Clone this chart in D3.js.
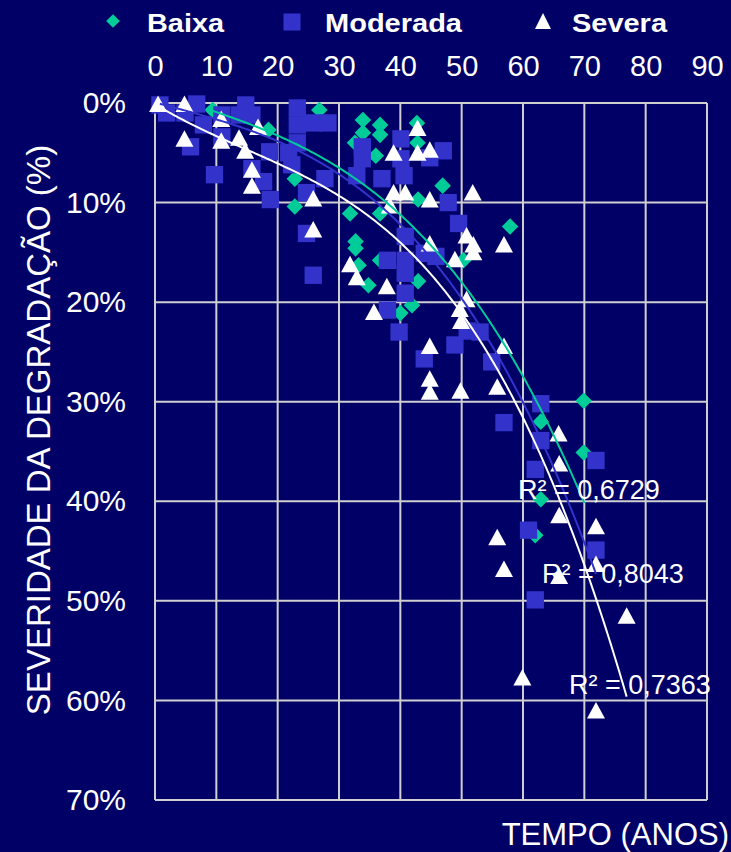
<!DOCTYPE html>
<html>
<head>
<meta charset="utf-8">
<script src="https://cdn.jsdelivr.net/npm/d3@7"></script>
<style>
  body { margin: 0; background: #000066; }
  text { font-family: Arial, "Liberation Sans", sans-serif; fill: #fff; }
</style>
</head>
<body>
<svg width="731" height="852"></svg>
<script>
// axis ticks
var xTicks = [0, 10, 20, 30, 40, 50, 60, 70, 80, 90];
var yTicks = [0, 10, 20, 30, 40, 50, 60, 70];

// series: [tempo (anos), severidade (%)]
var baixa = [
    [9.4, 0.7], [18.5, 2.7], [22.8, 7.6], [22.8, 10.4], [26.8, 0.7],
    [33.9, 1.7], [33.9, 3.0], [36.7, 2.2], [36.7, 3.2], [32.6, 4.0],
    [36.0, 5.3], [42.7, 2.0], [42.8, 4.0], [46.9, 8.3], [42.9, 9.7],
    [31.8, 11.1], [36.7, 11.1], [32.7, 13.9], [32.7, 14.6], [33.2, 16.3],
    [36.7, 15.8], [34.8, 18.3], [42.9, 17.9], [40.0, 21.1], [41.9, 20.3],
    [50.3, 15.8], [57.9, 12.4], [69.9, 29.9], [62.9, 32.0], [69.9, 35.1],
    [62.9, 39.8], [62.0, 43.4]
];
var moderada = [
    [0.8, 0.2], [1.9, 1.0], [4.9, 1.0], [6.8, 0.1], [7.9, 2.2],
    [5.8, 4.4], [9.7, 7.2], [10.9, 1.2], [10.9, 3.4], [14.8, 0.2],
    [13.8, 1.2], [15.8, 1.2], [18.7, 4.9], [15.8, 6.6], [17.7, 7.9],
    [18.8, 9.7], [23.2, 0.5], [23.2, 2.2], [23.2, 4.0], [21.8, 5.0],
    [22.3, 6.2], [25.8, 2.0], [28.2, 2.0], [27.7, 7.6], [24.7, 9.0],
    [24.7, 13.1], [25.8, 17.3], [33.8, 4.4], [33.8, 5.6], [32.9, 7.3],
    [37.0, 7.6], [40.1, 3.6], [40.1, 5.6], [40.6, 7.3], [47.0, 4.8],
    [44.8, 5.5], [47.8, 10.0], [49.5, 12.1], [40.8, 13.4], [37.9, 15.8],
    [40.8, 15.8], [40.8, 17.1], [43.9, 15.1], [45.8, 15.4], [40.8, 19.1],
    [37.9, 20.8], [39.8, 23.0], [48.9, 24.3], [50.9, 22.9], [53.0, 23.0],
    [43.9, 25.7], [54.9, 26.0], [62.9, 30.2], [56.9, 32.1], [62.9, 33.9],
    [71.9, 35.9], [62.0, 36.8], [60.9, 42.9], [71.9, 44.9], [62.0, 49.9]
];
var severa = [
    [0.5, 0.2], [4.8, 0.2], [4.8, 3.7], [10.8, 1.7], [10.8, 3.9],
    [13.7, 3.6], [14.7, 4.9], [16.8, 2.5], [15.8, 6.8], [15.8, 8.4],
    [25.8, 9.7], [25.8, 12.8], [31.8, 16.3], [32.9, 17.6], [35.7, 21.1],
    [37.8, 18.5], [38.3, 10.4], [38.9, 5.1], [38.9, 9.1], [40.8, 9.1],
    [42.8, 2.6], [42.8, 5.1], [44.8, 4.8], [44.8, 9.8], [44.8, 14.2],
    [44.8, 24.5], [44.8, 27.8], [44.8, 29.1], [48.9, 15.8], [49.7, 20.8],
    [49.9, 22.0], [49.8, 29.0], [50.8, 13.4], [50.8, 19.8], [51.8, 9.1],
    [51.9, 14.3], [51.9, 15.1], [55.8, 28.6], [56.9, 14.3], [56.9, 24.5],
    [55.8, 43.7], [56.9, 46.9], [59.9, 57.8], [65.8, 33.3], [65.9, 36.3],
    [65.9, 41.5], [65.9, 47.6], [71.9, 42.6], [71.9, 46.4], [76.9, 51.6],
    [71.9, 61.1]
];

// trend lines: [tempo, severidade]
var trendBaixa = [
    [8.4, 0.5], [23.6, 4.5], [30, 6.7], [40, 10.7], [49.7, 17.9],
    [52.4, 19.8], [56.3, 23.8], [60, 27.5], [65, 33.7], [70, 39.9]
];
var trendModerada = [
    [0.8, 0.1], [30, 7.0], [40, 12.1], [49.2, 19.8], [51.4, 20.8],
    [56.3, 25.8], [59.5, 28.5], [62.2, 33.0], [66.6, 39.2], [71.9, 47.3]
];
var trendSevera = [
    [0.5, 0.3], [22.8, 6.9], [30.2, 9.4], [47, 18.8], [51.4, 22.1],
    [58.4, 29.8], [61.7, 33.8], [69.3, 45.2], [76.9, 59.6]
];
var r2Labels = ['R² = 0,6729', 'R² = 0,8043', 'R² = 0,7363'];
var legendNames = ['Baixa', 'Moderada', 'Severa'];

var svg = d3.select('svg');
var width = 731, height = 852;
svg.append('rect').attr('width', width).attr('height', height).attr('fill', '#000066');

var x = d3.scaleLinear().domain([0, 90]).range([155, 707]);
var y = d3.scaleLinear().domain([0, 70]).range([103, 800]);

// grid
var grid = svg.append('g').attr('stroke', '#cfcfcf').attr('stroke-width', 2);
grid.selectAll('line.v').data(xTicks).enter().append('line')
    .attr('x1', d => x(d)).attr('x2', d => x(d))
    .attr('y1', y(0)).attr('y2', y(70));
grid.selectAll('line.h').data(yTicks).enter().append('line')
    .attr('y1', d => y(d)).attr('y2', d => y(d))
    .attr('x1', x(0)).attr('x2', x(90));

// axes (labels only, no tick marks)
var xAxis = d3.axisTop(x).tickValues(xTicks).tickSize(0).tickPadding(0);
svg.append('g').attr('transform', 'translate(0,76)').call(xAxis)
    .call(g => g.select('.domain').remove())
    .selectAll('text').attr('font-size', 29).attr('fill', '#fff')
    .attr('font-family', 'Arial, "Liberation Sans", sans-serif');

var yAxis = d3.axisLeft(y).tickValues(yTicks).tickSize(0).tickPadding(0)
    .tickFormat(d => d + '%');
svg.append('g').attr('transform', 'translate(126,0)').call(yAxis)
    .call(g => g.select('.domain').remove())
    .selectAll('text').attr('font-size', 30).attr('fill', '#fff')
    .attr('font-family', 'Arial, "Liberation Sans", sans-serif');

// markers
var colors = {baixa: '#00cc99', moderada: '#3333cc', severa: '#ffffff'};
var diamond = d3.symbol().type(d3.symbolDiamond2).size(175);
var square = d3.symbol().type(d3.symbolSquare).size(300);
var triangle = 'M0,-9.5L9,7L-9,7Z';

svg.append('g').selectAll('path').data(baixa).enter().append('path')
    .attr('d', diamond)
    .attr('transform', d => 'translate(' + x(d[0]) + ',' + y(d[1]) + ')')
    .attr('fill', colors.baixa);
svg.append('g').selectAll('path').data(moderada).enter().append('path')
    .attr('d', square)
    .attr('transform', d => 'translate(' + x(d[0]) + ',' + y(d[1]) + ')')
    .attr('fill', colors.moderada);
svg.append('g').selectAll('path').data(severa).enter().append('path')
    .attr('d', triangle)
    .attr('transform', d => 'translate(' + x(d[0]) + ',' + y(d[1]) + ')')
    .attr('fill', colors.severa);

// polynomial trend (least squares, order 3) through the read points
function polyfit(pts, deg) {
    var n = deg + 1;
    var A = [], B = [];
    for (var i = 0; i < n; i++) { A.push(new Array(n).fill(0)); B.push(0); }
    pts.forEach(function(p) {
        var t = p[0] / 100;
        for (var i = 0; i < n; i++) {
            for (var j = 0; j < n; j++) A[i][j] += Math.pow(t, i + j);
            B[i] += p[1] * Math.pow(t, i);
        }
    });
    for (var c = 0; c < n; c++) {
        var piv = c;
        for (var r = c + 1; r < n; r++) if (Math.abs(A[r][c]) > Math.abs(A[piv][c])) piv = r;
        var tmp = A[c]; A[c] = A[piv]; A[piv] = tmp;
        var tb = B[c]; B[c] = B[piv]; B[piv] = tb;
        for (var r = c + 1; r < n; r++) {
            var f = A[r][c] / A[c][c];
            for (var k = c; k < n; k++) A[r][k] -= f * A[c][k];
            B[r] -= f * B[c];
        }
    }
    var coef = new Array(n).fill(0);
    for (var r = n - 1; r >= 0; r--) {
        var s = B[r];
        for (var k = r + 1; k < n; k++) s -= A[r][k] * coef[k];
        coef[r] = s / A[r][r];
    }
    return function(xv) {
        var t = xv / 100, v = 0;
        for (var i = 0; i < n; i++) v += coef[i] * Math.pow(t, i);
        return v;
    };
}

var line = d3.line().x(d => x(d[0])).y(d => y(d[1]));
[[trendBaixa, colors.baixa], [trendModerada, colors.moderada], [trendSevera, colors.severa]].forEach(function(s) {
    var f = polyfit(s[0], 3);
    var ext = d3.extent(s[0], d => d[0]);
    var pts = d3.range(ext[0], ext[1], 0.25).concat([ext[1]]).map(v => [v, f(v)]);
    svg.append('path').attr('d', line(pts)).attr('fill', 'none')
        .attr('stroke', s[1]).attr('stroke-width', 2);
});

// R² labels
var r2Pos = [[518, 499], [542, 583], [569, 694]];
svg.append('g').selectAll('text').data(r2Labels).enter().append('text')
    .attr('x', (d, i) => r2Pos[i][0]).attr('y', (d, i) => r2Pos[i][1])
    .attr('font-size', 27).text(d => d);

// legend
var lg = svg.append('g');
lg.append('path').attr('d', d3.symbol().type(d3.symbolDiamond2).size(120))
    .attr('transform', 'translate(113,21)').attr('fill', colors.baixa);
lg.append('path').attr('d', d3.symbol().type(d3.symbolSquare).size(290))
    .attr('transform', 'translate(292,22)').attr('fill', colors.moderada);
lg.append('path').attr('d', 'M0,-9L8,7L-8,7Z')
    .attr('transform', 'translate(543,22)').attr('fill', colors.severa);
var legendX = [147, 325, 572];
var legendW = [77, 137, 95];
lg.selectAll('text.l').data(legendNames).enter().append('text')
    .attr('x', (d, i) => legendX[i]).attr('y', 32)
    .attr('font-size', 25).attr('font-weight', 'bold')
    .attr('textLength', (d, i) => legendW[i]).attr('lengthAdjust', 'spacingAndGlyphs')
    .text(d => d);

// axis titles
svg.append('text')
    .attr('transform', 'translate(50,430) rotate(-90)')
    .attr('text-anchor', 'middle').attr('font-size', 33)
    .text('SEVERIDADE DA DEGRADAÇÃO (%)');
svg.append('text')
    .attr('x', 729).attr('y', 845)
    .attr('text-anchor', 'end').attr('font-size', 31)
    .text('TEMPO (ANOS)');
</script>
</body>
</html>
